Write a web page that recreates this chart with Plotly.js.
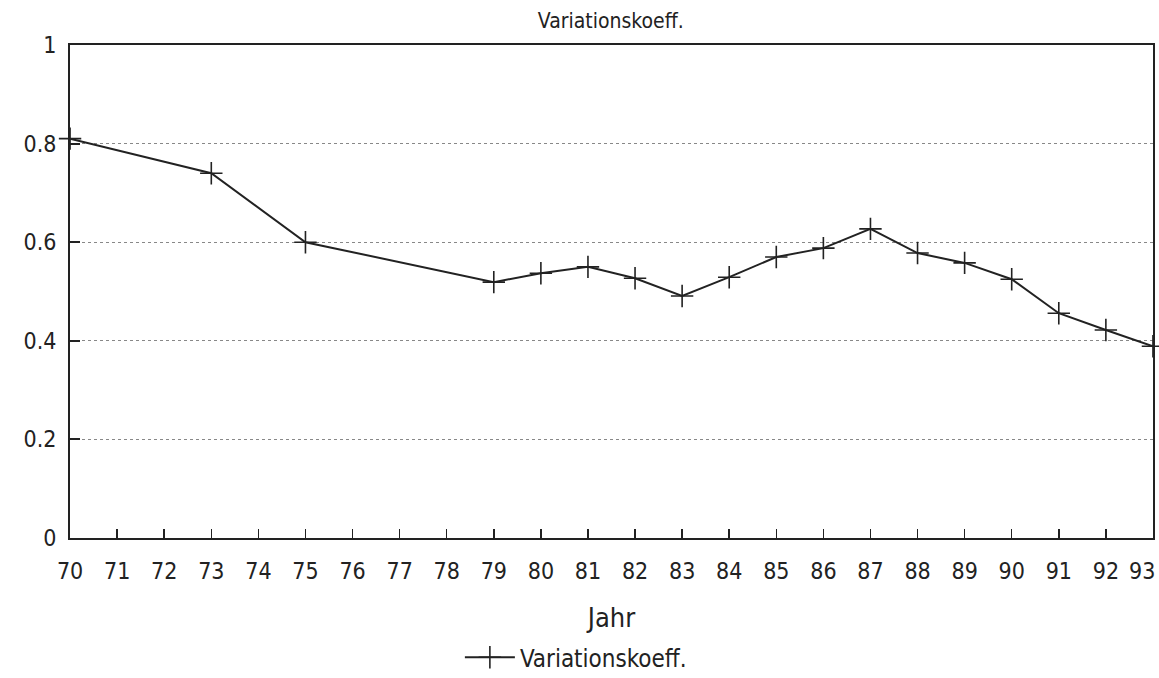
<!DOCTYPE html>
<html>
<head>
<meta charset="utf-8">
<script src="https://cdn.plot.ly/plotly-3.0.1.min.js"></script>
<style>html,body{margin:0;padding:0;background:#fff;}#chart{width:1159px;height:678px;}</style>
</head>
<body>
<div id="chart"></div>
<script>
const years = [70, 73, 75, 79, 80, 81, 82, 83, 84, 85, 86, 87, 88, 89, 90, 91, 92, 93];
const variationskoeff = [0.81, 0.74, 0.60, 0.519, 0.537, 0.55, 0.527, 0.491, 0.529, 0.57, 0.588, 0.627, 0.578, 0.558, 0.525, 0.456, 0.422, 0.389];
const tickYears = [70,71,72,73,74,75,76,77,78,79,80,81,82,83,84,85,86,87,88,89,90,91,92,93];
const tickLabels = ['70','71','72','73','74','75','76','77','78','79','80','81','82','83','84','85','86','87','88','89','90','91','92','93'];
const yTicks = [0, 0.2, 0.4, 0.6, 0.8, 1];
const yTickLabels = ['0', '0.2', '0.4', '0.6', '0.8', '1'];

const FONT = '"Liberation Sans Narrow", "Arial Narrow", "DejaVu Sans Condensed", "Liberation Sans", sans-serif';

const lastIdx = tickYears.length - 1;
// the last year label is drawn as an annotation nudged left to stay inside the page
const axisTickText = tickLabels.map((t, i) => i === lastIdx ? '' : t);

const trace = {
  x: years,
  y: variationskoeff,
  type: 'scatter',
  mode: 'lines+markers',
  name: 'Variationskoeff.',
  line: {color: '#222', width: 2},
  marker: {symbol: 'cross-thin', size: 16, line: {color: '#222', width: 1.6}, color: '#222'},
  cliponaxis: false
};

const layout = {
  width: 1159, height: 678,
  margin: {l: 70, r: 6, t: 45, b: 140},
  paper_bgcolor: '#fff', plot_bgcolor: '#fff',
  font: {family: FONT, color: '#222', size: 20},
  title: {text: 'Variationskoeff.', x: 0.527, xanchor: 'center', yref: 'container', y: 0.97, yanchor: 'middle', font: {family: FONT, size: 21, color: '#222'}},
  xaxis: {
    range: [69.999, 93.001],
    automargin: false,
    tickvals: tickYears,
    ticktext: axisTickText,
    ticks: 'inside', ticklen: 9, tickwidth: 1.5, tickcolor: '#222',
    ticklabelstandoff: 11,
    showline: true, linecolor: '#222', linewidth: 2, mirror: true,
    showgrid: false, zeroline: false,
    tickfont: {family: FONT, size: 23, color: '#222'},
    title: {text: 'Jahr', font: {family: FONT, size: 27, color: '#222'}, standoff: 26}
  },
  yaxis: {
    range: [0, 1],
    automargin: false,
    tickvals: yTicks,
    ticktext: yTickLabels,
    ticks: 'inside', ticklen: 10, tickwidth: 2, tickcolor: '#222',
    ticklabelstandoff: 7,
    showline: true, linecolor: '#222', linewidth: 2, mirror: true,
    showgrid: true, gridcolor: '#888', griddash: 'dot', gridwidth: 1,
    zeroline: false,
    tickfont: {family: FONT, size: 23, color: '#222'}
  },
  annotations: [{
    x: tickYears[lastIdx], xref: 'x', y: 0, yref: 'y',
    text: tickLabels[lastIdx], showarrow: false,
    xanchor: 'right', yanchor: 'middle', xshift: 4, yshift: -33,
    font: {family: FONT, size: 23, color: '#222'}
  }],
  showlegend: true,
  legend: {
    orientation: 'h', x: 0.36, xanchor: 'left', yref: 'container', y: 0.03, yanchor: 'middle',
    itemwidth: 50,
    font: {family: FONT, size: 24, color: '#222'},
    bgcolor: 'rgba(0,0,0,0)'
  }
};

Plotly.newPlot('chart', [trace], layout, {displayModeBar: false, staticPlot: true});
</script>
</body>
</html>
